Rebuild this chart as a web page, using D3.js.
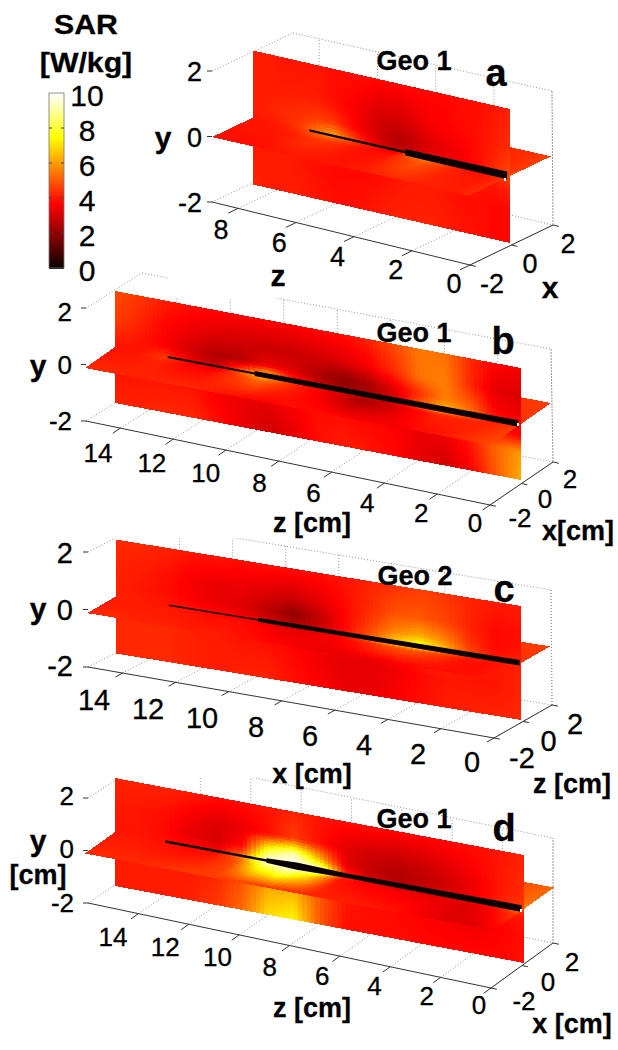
<!DOCTYPE html>
<html>
<head>
<meta charset="utf-8">
<script src="https://cdn.jsdelivr.net/npm/d3@7"></script>
<style>
  body { margin: 0; background: #fff; }
  text { font-family: "Liberation Sans", Arial, sans-serif; fill: #000; stroke: #000; stroke-width: 0.3px; }
</style>
</head>
<body>
<div id="chart"></div>
<script>
var width = 618;
var height = 1050;

//sample positions of the SAR grids (columns run from z max to z = 0)
var wallY = [2, 1, 0.4, 0, -0.4, -1, -2];
var floorX = [2, 0.5, 0, -0.5, -2];
var yTicks = [-2, 0, 2];
var xTicks = [-2, 0, 2];
var zTicksShort = [0, 2, 4, 6, 8];
var zTicksLong = [0, 2, 4, 6, 8, 10, 12, 14];
var barTicks = [0, 2, 4, 6, 8, 10];

//SAR on the vertical plane, one row per wallY
var wallA = [
  [4.1,4.1,4,4,4,3.9,3.9,3.9,3.8,3.8,3.8,3.8,3.8,3.9,3.9,4,4.2],
  [4.1,4.1,4.1,4.1,4.1,3.9,3.7,3.4,3.1,3.1,3.3,3.6,3.7,3.8,3.9,4.1,4.3],
  [4.1,4.2,4.3,4.4,4.6,4.5,3.9,3.4,2.9,2.6,2.8,3.2,3.4,3.6,3.9,4.2,4.6],
  [4,4.1,4.2,4.6,5.5,6.2,5,4,3.1,2.7,3,3.4,3.5,3.5,3.8,4.4,4.8],
  [4,4,4,4.1,4.2,4.2,4,3.9,3.9,4,4.1,4.2,4.2,4,4,4,4.2],
  [4.1,4.1,4.1,4,3.9,3.8,3.8,3.8,3.9,4,4.1,4.1,4,3.9,3.9,3.8,3.8],
  [4.2,4.1,4.1,4.1,4,3.9,3.9,4,4.1,4.2,4.2,4.2,4.1,4,3.9,3.8,3.8]
];
var wallB = [
  [4.8,4.5,4.1,3.9,3.8,3.7,3.7,3.7,3.8,3.9,4.2,4.8,5.5,5.4,4.3,3.7,3.6],
  [4.6,4.2,3.7,3.4,3.1,3,2.9,2.9,3,3.2,3.6,4.3,5.4,5.6,4.3,3.3,3.2],
  [4.2,4,3.6,3,2.5,2.6,3.4,3.2,2.5,2,2.4,3.3,4.4,5.6,5,3.6,3.4],
  [4,3.9,4.5,3.5,2.8,5,7,4.2,3,2.3,2.4,3,5,6.5,5.5,4,3.6],
  [4,4,4,3.8,3.8,4.2,4.4,4,3.6,3.2,2.8,2.8,3.4,4.2,4.4,4,3.6],
  [4,4,4,4,3.6,3.4,3.3,3.6,3.9,3.9,3.8,3.7,3.4,3.4,4,5.2,6],
  [4.2,4.2,4.3,4.3,3.9,3.4,3,3.3,3.9,4.1,4,3.8,3.3,3,3.6,5,6.3]
];
var wallC = [
  [4.3,4.3,4.2,4,4,3.9,3.9,3.9,3.9,4,4.2,4.4,4.6,4.5,4.2,4.1,4.1],
  [4.2,4.1,3.9,3.6,3.4,3.4,3.2,3,3.3,3.8,4.3,4.9,5,4.7,4.2,3.8,3.9],
  [4.2,4,3.9,3.6,3.4,3.2,2.7,2,2.7,3.7,4.6,5.6,6.2,5.6,4.4,3.8,4],
  [4.2,4.1,4,3.9,3.7,3.6,3.1,2.6,3,3.8,5,6.8,8,6.5,4.8,4,4.2],
  [4.2,4.2,4.2,4.1,4,3.9,3.8,3.6,3.6,3.6,3.5,3.7,4.2,4.2,4,4,4.2],
  [4.3,4.3,4.3,4.2,4.1,4,4,3.8,3.5,3.3,3.3,3.5,3.8,4,4,4,4.2],
  [4.3,4.3,4.3,4.2,4.1,4.2,4.2,3.9,3.7,3.4,3.4,3.6,3.9,4.1,4.2,4.2,4.3]
];
var wallD = [
  [4.2,4.2,4.2,4.1,3.9,3.9,4,4.2,4,3.9,3.9,3.8,3.8,3.8,3.9,4,4.2],
  [4.1,4,3.9,3.5,3.2,3.4,3.9,4.6,3.9,3.3,3,2.9,3,3.3,3.6,4,4.3],
  [4,4,3.8,3.3,3.1,3.8,8,9.5,6.5,3.4,2.8,2.5,2.7,3,3.4,4,4.4],
  [4,4,3.9,3.8,3.6,5.5,10,10,10,4.4,3,2.7,2.9,3.2,3.6,4.2,4.6],
  [4.1,4.1,4.1,4,4,4.8,6,6.5,5,4,3.6,3.4,3.5,3.6,3.6,3.8,4],
  [4.1,4.1,4.1,4.1,4.3,5,6.2,6.4,5,4,3.9,3.8,3.7,3.6,3.5,3.7,3.9],
  [4.1,4.1,4.1,4.2,4.5,5.3,7,7.4,5,3.9,3.9,3.9,3.8,3.8,3.8,3.8,3.9]
];

//SAR on the horizontal plane, one row per floorX
var floorA = [
  [4.3,4.3,4.3,4.3,4.3,4.3,4.3,4.3,4.3,4.3,4.3,4.3,4.3,4.3,4.3,4.4,4.6],
  [4.2,4.2,4.2,4.2,4.2,4.2,4.2,4.2,4.2,4.2,4.2,4.2,4.2,4.2,4.2,4.3,4.6],
  [4,4,4.1,4.5,5.2,5.8,5,4.3,3.6,3.3,5.5,6,5,4.2,3.8,4,5],
  [4,4,4,4.1,4.4,4.5,4.3,4,3.9,4,4.6,5,4.6,4.2,4,4,4.4],
  [3.9,3.9,3.9,3.9,4,4,4,4,4,4.1,4.2,4.3,4.3,4.2,4.2,4.1,4.3]
];
var floorB = [
  [4.4,4.4,4.4,4.4,4.4,4.4,4.4,4.4,4.4,4.4,4.4,4.4,4.4,4.4,4.4,4.5,4.6],
  [4.3,4.3,4.3,4.3,4.3,4.3,4.3,4.3,4.3,4.3,4.3,4.3,4.3,4.3,4.3,4.4,4.5],
  [4,4,4.6,3.6,3,5,7,4.5,3.6,3.2,3,3.2,5,6.5,5.5,4,4.5],
  [4,4,4.2,3.8,3.8,4.5,5.2,4.4,3.8,3.2,2.4,2.8,3.6,4.2,4.2,4.2,4.6],
  [4.3,4.3,4.2,4.3,4.3,4.1,3.8,3.7,3.9,3.9,3.7,3.6,3.5,3.8,4,4.4,4.8]
];
var floorC = [
  [4.5,4.5,4.5,4.5,4.5,4.5,4.5,4.5,4.5,4.5,4.5,4.5,4.5,4.5,4.5,4.5,4.6],
  [4.4,4.4,4.4,4.4,4.4,4.4,4.4,4.4,4.4,4.4,4.4,4.4,4.4,4.4,4.4,4.4,4.5],
  [4.2,4.1,4,3.9,3.7,3.6,3.2,2.9,3,3.8,5.2,7,8,6,4.6,4,4.6],
  [4.1,4.1,4.1,4,3.9,3.9,3.7,3.4,3.4,3.6,4.1,4.8,5,4.6,4,3.9,4.1],
  [4.3,4.3,4.2,4.2,4.1,4.1,4,3.8,3.6,3.4,3.3,3.4,3.6,3.8,3.9,3.9,4.1]
];
var floorD = [
  [4.4,4.4,4.4,4.4,4.4,4.4,4.4,4.4,4.4,4.4,4.4,4.4,4.4,4.4,4.6,4.9,5.2],
  [4.3,4.3,4.3,4.3,4.3,4.3,4.3,4.3,4.3,4.3,4.3,4.3,4.3,4.3,4.5,4.9,5.4],
  [4,4,3.9,3.8,3.8,5.5,10,10,10,4.4,3.2,3,3,3.2,3.4,4.4,6],
  [4.1,4.1,4,3.9,4,4.8,8,9,7,4,3.7,3.6,3.5,3.4,3.2,3.6,4.6],
  [4.3,4.3,4.3,4.4,4.6,4.6,4.5,4.4,4.3,4.2,4.2,4.1,4,3.6,3.2,3.2,3.6]
];

//layout of each 3D box in screen pixels
var panels = [
  { name: "d", zMax: 16.2, zTicks: zTicksLong, zAxisMax: 16, wall: wallD, floor: floorD,
    right: [524, 909], left: [115, 832], yHalf: 54, xVec: [30, -21.5],
    FL: [88, 903], FR: [491, 988], BR: [553, 943], BL: [150, 862], TL: [150, 757], TR: [553, 838],
    mask: [0, 745, 600, 33], notch: [520, 909],
    zLabel: [[113, 937], [479, 1005]], zLabelMax: 14, xLabel: [[524, 1001], [572, 962]],
    yLabelX: 74, yLabelY: [903, 849, 796], tickFont: 26,
    needle: { z: [14.2, 10.2, 10.2, 9, 7, 0.1], half: [1.2, 1.2, 2.2, 3.6, 2.2, 3.4] },
    titles: [["y", 38, 840, 30], ["[cm]", 38, 874, 27], ["Geo 1", 414, 818, 27], ["z [cm]", 312, 1007, 27], ["x [cm]", 572, 1023, 27], ["d", 504, 827, 38]] },
  { name: "c", zMax: 15.25, zTicks: zTicksLong, zAxisMax: 15.3, wall: wallC, floor: floorC,
    right: [521, 663], left: [116, 596.5], yHalf: 57, xVec: [29, -16.6],
    FL: [88, 667], FR: [494, 738], BR: [552, 705], BL: [145, 638], TL: [145, 523], TR: [551, 590],
    mask: [0, 510, 600, 28], notch: null,
    zLabel: [[94, 700], [472, 762]], zLabelMax: 14, xLabel: [[522, 758], [575, 724]],
    yLabelX: 73, yLabelY: [666, 610, 553], tickFont: 29,
    needle: { z: [13.26, 9.9, 9.9, 0.05], half: [0.7, 0.7, 2, 2.8] },
    titles: [["y", 38, 608, 30], ["Geo 2", 415, 575, 27], ["x [cm]", 312, 773, 27], ["z [cm]", 572, 783, 27], ["c", 504, 588, 38]] },
  { name: "b", zMax: 15.4, zTicks: zTicksLong, zAxisMax: 15.3, wall: wallB, floor: floorB,
    right: [521, 424], left: [115, 347], yHalf: 56, xVec: [30, -21],
    FL: [86, 421], FR: [490, 505], BR: [553, 462], BL: [142, 386], TL: [142, 273], TR: [551, 349],
    mask: [168, 262, 118, 36], notch: [517, 423],
    zLabel: [[98, 453], [475, 523]], zLabelMax: 14, xLabel: [[520, 518], [570, 479]],
    yLabelX: 72, yLabelY: [421, 365, 312], tickFont: 26,
    needle: { z: [13.4, 10.1, 10.1, 0.1], half: [1.1, 1.1, 2.6, 3.2] },
    titles: [["y", 38, 365, 30], ["Geo 1", 414, 332, 27], ["z [cm]", 312, 522, 27], ["x[cm]", 578, 530, 27], ["b", 503, 340, 38]] },
  { name: "a", zMax: 8.84, zTicks: zTicksShort, zAxisMax: 8.9, wall: wallA, floor: floorA,
    right: [510, 176], left: [253, 117.5], yHalf: 67, xVec: [41, -19.6],
    FL: [212, 202], FR: [470, 265], BR: [553, 225], BL: [293, 164], TL: [293, 33], TR: [552, 91],
    mask: null, notch: [504, 178],
    zLabel: [[221, 229], [454, 283]], zLabelMax: 8, xLabel: [[492, 283], [568, 243]],
    yLabelX: 202, yLabelY: [202, 137, 71], tickFont: 27,
    needle: { z: [6.9, 3.6, 3.6, 0.1], half: [1.2, 1.2, 3.3, 3.8] },
    titles: [["y", 163, 137, 30], ["Geo 1", 414, 60, 27], ["z", 278, 275, 30], ["x", 550, 287, 30], ["a", 496, 72, 38]] }
];

var svg = d3.select("#chart").append("svg")
  .attr("width", width)
  .attr("height", height)
  .style("display", "block");

//MATLAB hot colormap over 0-10 W/kg
var sarColor = d3.scaleLinear()
  .domain([0, 3.7, 7.5, 10])
  .range(["#0a0000", "#ff0000", "#ffff00", "#ffffff"])
  .clamp(true);

function label(g, str, x, y, size, opts) {
  opts = opts || {};
  g.append("text")
    .attr("transform", "translate(" + x + "," + y + ") scale(" + (opts.sx || 1) + ",1)")
    .attr("dy", "0.36em")
    .attr("text-anchor", opts.anchor || "middle")
    .attr("font-size", size + "px")
    .attr("font-weight", opts.weight || "normal")
    .text(str);
}

function seg(g, a, b, cls) {
  var line = g.append("line")
    .attr("x1", a[0]).attr("y1", a[1])
    .attr("x2", b[0]).attr("y2", b[1]);
  if (cls == "grid") {
    line.attr("stroke", "#8a8a8a").attr("stroke-width", 0.9).attr("stroke-dasharray", "1,2");
  } else if (cls == "axisY") {
    line.attr("stroke", "#666").attr("stroke-width", 1).attr("stroke-dasharray", "2,1");
  } else {
    line.attr("stroke", "#333").attr("stroke-width", 1);
  }
}

//draws a bilinearly interpolated grid of SAR values as small quads
function surface(g, values, rowPos, from, to, zCols, project) {
  var cells = [];
  var subU = 6;
  for (var r = from; r < to; r++) {
    var subV = Math.max(1, Math.round(Math.abs(rowPos[r + 1] - rowPos[r]) / 0.1));
    for (var c = 0; c < zCols.length - 1; c++) {
      for (var i = 0; i < subU; i++) {
        for (var j = 0; j < subV; j++) {
          var u0 = i / subU, u1 = (i + 1) / subU, v0 = j / subV, v1 = (j + 1) / subV;
          var um = (u0 + u1) / 2, vm = (v0 + v1) / 2;
          var top = values[r][c] * (1 - um) + values[r][c + 1] * um;
          var bot = values[r + 1][c] * (1 - um) + values[r + 1][c + 1] * um;
          var z0 = zCols[c] + (zCols[c + 1] - zCols[c]) * u0;
          var z1 = zCols[c] + (zCols[c + 1] - zCols[c]) * u1;
          var w0 = rowPos[r] + (rowPos[r + 1] - rowPos[r]) * v0;
          var w1 = rowPos[r] + (rowPos[r + 1] - rowPos[r]) * v1;
          cells.push({
            value: top * (1 - vm) + bot * vm,
            pts: [project(z0, w0), project(z1, w0), project(z1, w1), project(z0, w1)]
          });
        }
      }
    }
  }
  g.append("g").attr("shape-rendering", "crispEdges")
    .selectAll("path").data(cells).join("path")
    .attr("d", function (d) { return "M" + d.pts.join("L") + "Z"; })
    .attr("fill", function (d) { return sarColor(d.value); });
}

function drawPanel(p) {
  var g = svg.append("g").attr("class", "panel-" + p.name);

  //axis scales (array ranges give screen points)
  var zFront = d3.scaleLinear().domain([p.zAxisMax, 0]).range([p.FL, p.FR]);
  var zBack = d3.scaleLinear().domain([p.zAxisMax, 0]).range([p.BL, p.BR]);
  var zTop = d3.scaleLinear().domain([p.zAxisMax, 0]).range([p.TL, p.TR]);
  var xEnd = d3.scaleLinear().domain([-2, 2]).range([p.FR, p.BR]);
  var yLeft = d3.scaleLinear().domain([-2, 2]).range([p.FL, [p.FL[0], p.FL[1] - (p.BL[1] - p.TL[1])]]);

  //back of the box
  p.zTicks.forEach(function (z) {
    seg(g, zFront(z), zBack(z), "grid");
    seg(g, zBack(z), zTop(z), "grid");
  });
  seg(g, p.TL, p.TR, "grid");
  seg(g, p.TR, p.BR, "grid");
  seg(g, p.BL, p.BR, "grid");
  seg(g, p.FL, p.BL, "grid");
  seg(g, yLeft(2), p.TL, "grid");
  if (p.mask) {
    g.append("rect")
      .attr("x", p.mask[0]).attr("y", p.mask[1])
      .attr("width", p.mask[2]).attr("height", p.mask[3])
      .attr("fill", "#fff");
  }

  //solid axes with ticks
  seg(g, p.FL, p.FR, "axis");
  seg(g, p.FR, p.BR, "axis");
  seg(g, yLeft(-2), yLeft(2), "axisY");
  var xDir = [p.BR[0] - p.FR[0], p.BR[1] - p.FR[1]];
  var zDir = [p.FL[0] - p.FR[0], p.FL[1] - p.FR[1]];
  var zLen = Math.hypot(zDir[0], zDir[1]);
  p.zTicks.forEach(function (z) {
    var a = zFront(z);
    seg(g, a, [a[0] - xDir[0] * 0.12, a[1] - xDir[1] * 0.12], "axis");
  });
  xTicks.forEach(function (x) {
    var a = xEnd(x);
    seg(g, a, [a[0] - zDir[0] / zLen * 6, a[1] - zDir[1] / zLen * 6], "axis");
  });
  yTicks.forEach(function (y) {
    var a = yLeft(y);
    seg(g, a, [a[0] - 5, a[1]], "axis");
  });

  //slice planes
  var sx = d3.scaleLinear().domain([0, p.zMax]).range([p.right[0], p.left[0]]);
  var sy = d3.scaleLinear().domain([0, p.zMax]).range([p.right[1], p.left[1]]);
  var wy = d3.scaleLinear().domain([-2, 2]).range([p.yHalf, -p.yHalf]);
  var colZ = d3.scaleLinear().domain([0, 16]).range([p.zMax, 0]);
  var zCols = d3.range(17).map(colZ);

  function wallPoint(z, y) {
    return [sx(z), sy(z) + wy(y)];
  }
  function floorPoint(z, x) {
    return [sx(z) + p.xVec[0] * x / 2, sy(z) + p.xVec[1] * x / 2];
  }

  surface(g, p.floor, floorX, 0, 2, zCols, floorPoint);
  surface(g, p.wall, wallY, 0, wallY.length - 1, zCols, wallPoint);
  surface(g, p.floor, floorX, 2, floorX.length - 1, zCols, floorPoint);

  //catheter along x = 0, y = 0
  var n = p.needle;
  var upper = n.z.map(function (z, i) { return [sx(z), sy(z) - n.half[i]]; });
  var lower = n.z.map(function (z, i) { return [sx(z), sy(z) + n.half[i]]; }).reverse();
  g.append("path")
    .attr("d", d3.line()(upper.concat(lower)) + "Z")
    .attr("fill", "#0a0000");
  if (p.notch) {
    g.append("rect")
      .attr("x", p.notch[0]).attr("y", p.notch[1])
      .attr("width", 2).attr("height", 3)
      .attr("fill", "#fff");
  }

  //tick labels
  var zl = d3.scaleLinear().domain([p.zLabelMax, 0]).range(p.zLabel);
  p.zTicks.forEach(function (z) {
    var a = zl(z);
    label(g, z, a[0], a[1], p.tickFont);
  });
  var xl = d3.scaleLinear().domain([-2, 2]).range(p.xLabel);
  xTicks.forEach(function (x) {
    var a = xl(x);
    label(g, x, a[0], a[1], p.tickFont);
  });
  yTicks.forEach(function (y, i) {
    label(g, y, p.yLabelX, p.yLabelY[i], p.tickFont, { anchor: "end" });
  });

  //axis names, geometry tag and panel letter
  p.titles.forEach(function (t) {
    label(g, t[0], t[1], t[2], t[3], { weight: "bold" });
  });
}

panels.forEach(drawPanel);

//colour bar
var barY = d3.scaleLinear().domain([0, 10]).range([268, 93]);
var bar = svg.append("g").attr("class", "colorbar");
bar.append("g").attr("shape-rendering", "crispEdges")
  .selectAll("rect")
  .data(d3.range(0, 10, 0.05))
  .join("rect")
  .attr("x", 49)
  .attr("width", 15)
  .attr("y", function (d) { return barY(d + 0.05); })
  .attr("height", 2)
  .attr("fill", function (d) { return sarColor(d); });
bar.append("rect")
  .attr("x", 49).attr("y", 93).attr("width", 15).attr("height", 175)
  .attr("fill", "none").attr("stroke", "#777").attr("stroke-width", 0.8);
barTicks.slice(1, -1).forEach(function (t) {
  bar.append("line").attr("x1", 49).attr("x2", 52).attr("y1", barY(t)).attr("y2", barY(t)).attr("stroke", "#444");
  bar.append("line").attr("x1", 61).attr("x2", 64).attr("y1", barY(t)).attr("y2", barY(t)).attr("stroke", "#444");
});

var barAxis = d3.axisRight(barY).tickValues(barTicks).tickSize(0);
var barAxisG = svg.append("g").attr("transform", "translate(87,3)").call(barAxis);
barAxisG.select(".domain").remove();
barAxisG.selectAll("text")
  .attr("x", 0)
  .attr("text-anchor", "middle")
  .attr("font-size", "30px")
  .attr("font-family", "Liberation Sans")
  .attr("fill", "#000");

label(svg, "SAR", 86, 24, 28, { weight: "bold", sx: 1.08 });
label(svg, "[W/kg]", 86, 62, 28, { weight: "bold", sx: 1.08 });
</script>
</body>
</html>
